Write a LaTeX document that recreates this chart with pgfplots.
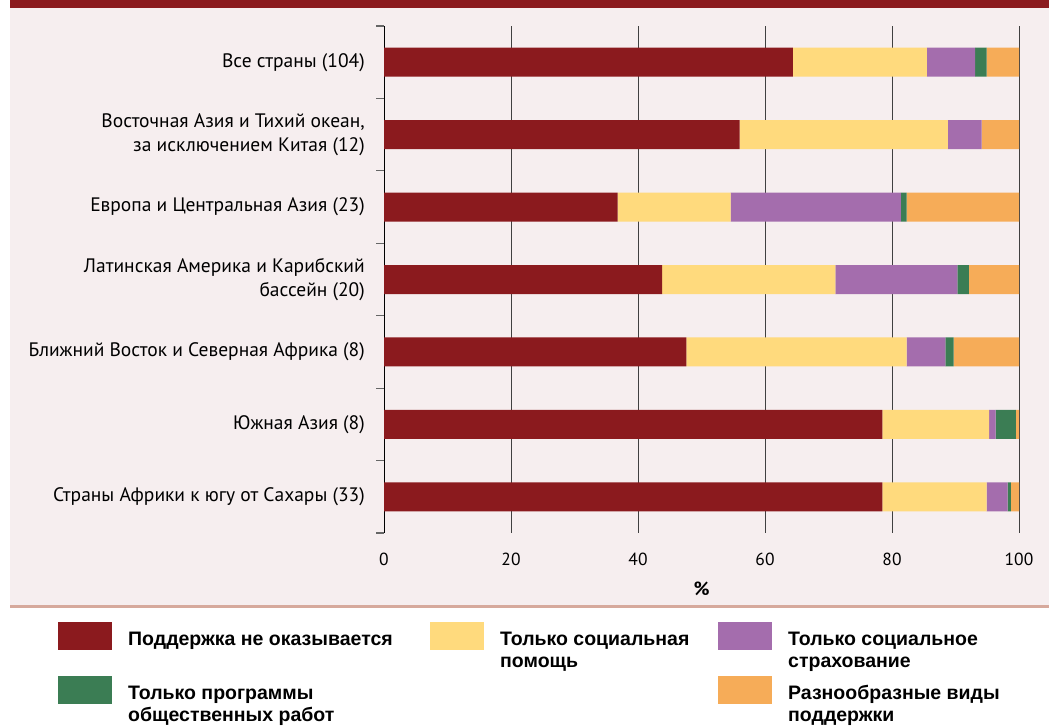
\documentclass[border=0pt]{standalone}
\usepackage{fontspec}
\setmainfont{PT Sans}
\newfontfamily\legfont{Liberation Sans}
\usepackage{pgfplots}
\pgfplotsset{compat=1.18}
\definecolor{cRed}{HTML}{8B1A1E}
\definecolor{cYel}{HTML}{FFDA7D}
\definecolor{cPur}{HTML}{A46DAD}
\definecolor{cGrn}{HTML}{3B7D54}
\definecolor{cOra}{HTML}{F6AC58}
\definecolor{cBg}{HTML}{F6EEEF}
\definecolor{cLine}{HTML}{D6A99C}
\pgfplotsset{myleg/.style={legend image code/.code={\fill[##1] (0pt,-5pt) rectangle (54pt,23pt); \path (70pt,0pt);}}}
\begin{document}
\begin{tikzpicture}
\fill[white] (0pt,0pt) rectangle (1049pt,726pt);
\fill[cBg] (10pt,121pt) rectangle (1049pt,718pt);
\fill[cRed] (10pt,718pt) rectangle (1049pt,726pt);
\fill[cLine] (10pt,118pt) rectangle (1049pt,121pt);
\begin{axis}[
  at={(384pt,193pt)}, anchor=south west,
  scale only axis, width=635pt, height=507pt,
  xbar stacked, bar width=29pt,
  xmin=0, xmax=100, ymin=-0.5, ymax=6.5, y dir=reverse,
  axis lines*=left,
  separate axis lines,
  x axis line style={draw=none},
  y axis line style={black, line width=1pt},
  xtick={0,20,...,100},
  xmajorgrids=true,
  major grid style={draw=black!75, line width=1pt},
  major tick length=0pt,
  minor tick length=8pt,
  tick align=outside,
  minor tick style={draw=black!60, line width=1.2pt},
  ytick={0,...,6},
  minor ytick={-0.5,0.5,...,6.5},
  /pgf/number format/assume math mode=true,
  xticklabel style={font=\fontsize{17.5}{17.5}\selectfont, yshift=-16pt},
  yticklabel style={font=\fontsize{19.5}{24}\selectfont, align=right, inner sep=0pt, xshift=-19pt},
  yticklabels={{Все страны (104)},{Восточная Азия и Тихий океан,\\за исключением Китая (12)},{Европа и Центральная Азия (23)},{Латинская Америка и Карибский\\бассейн (20)},{Ближний Восток и Северная Африка (8)},{Южная Азия (8)},{Страны Африки к югу от Сахары (33)}},
  xlabel={\textbf{\%}},
  xlabel style={font=\fontsize{19}{19}\selectfont, yshift=-10pt},
  legend columns=3,
  legend cell align=left,
  legend style={at={(axis description cs:-0.5134,-0.1755)}, anchor=north west, draw=none, fill=none, inner sep=0pt, column sep=0pt, row sep=26pt, nodes={inner sep=0pt, anchor=base west}, font=\legfont\bfseries\fontsize{19.5}{22}\selectfont},
]
\addplot[fill=cRed, draw=none, myleg] coordinates {(64.4,0) (56.0,1) (36.8,2) (43.8,3) (47.6,4) (78.5,5) (78.5,6)};
\addlegendentry{\parbox[t]{302pt}{Поддержка не оказывается}}
\addplot[fill=cYel, draw=none, myleg] coordinates {(21.1,0) (32.8,1) (17.8,2) (27.3,3) (34.7,4) (16.8,5) (16.4,6)};
\addlegendentry{\parbox[t]{218pt}{Только социальная\\помощь}}
\addplot[fill=cPur, draw=none, myleg] coordinates {(7.6,0) (5.3,1) (26.8,2) (19.2,3) (6.1,4) (1.0,5) (3.3,6)};
\addlegendentry{\parbox[t]{250pt}{Только социальное\\страхование}}
\addplot[fill=cGrn, draw=none, myleg] coordinates {(1.8,0) (0.0,1) (0.9,2) (1.8,3) (1.3,4) (3.2,5) (0.5,6)};
\addlegendentry{\parbox[t]{302pt}{Только программы\\общественных работ}}
\addlegendimage{empty legend}
\addlegendentry{}
\addplot[fill=cOra, draw=none, myleg] coordinates {(5.1,0) (5.9,1) (17.7,2) (7.9,3) (10.3,4) (0.5,5) (1.3,6)};
\addlegendentry{\parbox[t]{250pt}{Разнообразные виды\\поддержки}}
\end{axis}
\end{tikzpicture}
\end{document}
